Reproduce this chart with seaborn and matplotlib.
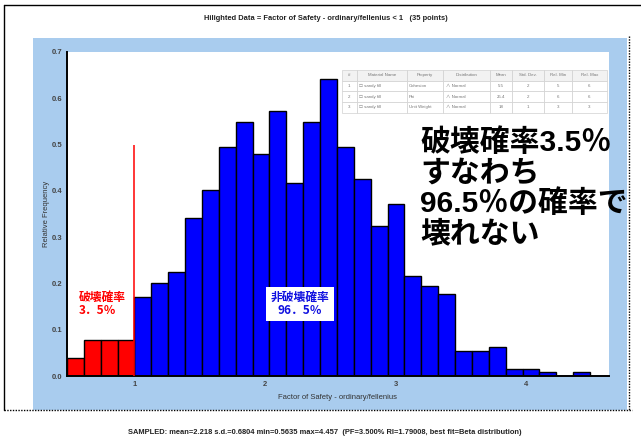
import numpy as np
import pandas as pd
import matplotlib
matplotlib.use("Agg")
import matplotlib.pyplot as plt
import seaborn as sns
from matplotlib.patches import Rectangle
from matplotlib.lines import Line2D

# ---- data -------------------------------------------------------------
# Monte-Carlo samples of the factor of safety, binned (1000 samples)
bin_first_edge = 0.4832
bin_width = 0.1292
bin_counts = [5, 10, 10, 10, 22, 26, 29, 44, 52, 64, 71, 62, 74, 54, 71,
              83, 64, 55, 42, 48, 28, 25, 23, 7, 7, 8, 2, 2, 1, 0, 1]
failure_limit = 1.0

x_ticks = [1, 2, 3, 4]
y_ticks = [0.0, 0.1, 0.2, 0.3, 0.4, 0.5, 0.6, 0.7]

title_text = "Hilighted Data = Factor of Safety - ordinary/fellenius < 1   (35 points)"
summary_text = ("SAMPLED: mean=2.218 s.d.=0.6804 min=0.5635 max=4.457  "
                "(PF=3.500% RI=1.79008, best fit=Beta distribution)")
x_label = "Factor of Safety - ordinary/fellenius"
y_label = "Relative Frequency"

fail_label = "破壊確率\n3．5％"
safe_label = "非破壊確率\n96．5％"
message_lines = ["破壊確率3.5％", "すなわち", "96.5％の確率で", "壊れない"]

table_header = ["#", "Material Name", "Property", "Distribution",
                "Mean", "Std. Dev.", "Rel. Min", "Rel. Max"]
table_rows = [
    ["1", "☐ sandy fill", "Cohesion", "∧ Normal", "5.5", "2", "5", "6"],
    ["2", "☐ sandy fill", "Phi", "∧ Normal", "25.4", "2", "6", "6"],
    ["3", "☐ sandy fill", "Unit Weight", "∧ Normal", "18", "1", "3", "3"],
]

# ---- frame ------------------------------------------------------------
edges = bin_first_edge + bin_width * np.arange(len(bin_counts) + 1)
centers = (edges[:-1] + edges[1:]) / 2
df = pd.DataFrame({
    "fos": centers,
    "count": bin_counts,
    "zone": np.where(centers < failure_limit, "fail", "safe"),
})

sns.set_theme(style="white")
plt.rcParams["font.family"] = ["Liberation Sans", "Noto Sans CJK JP", "DejaVu Sans"]

W, H = 641, 444
fig = plt.figure(figsize=(W / 100, H / 100), dpi=100)
fig.patch.set_facecolor("white")


def fx(px):
    return px / W


def fy(py):
    return 1 - py / H


# light-blue panel behind the plot
fig.patches.append(Rectangle((fx(33), fy(410)), fx(627 - 33), (410 - 38) / H,
                             transform=fig.transFigure, facecolor="#A9CCEE",
                             edgecolor="none", zorder=-5))
# outer frame lines
fig.add_artist(Line2D([fx(4), fx(4)], [fy(5), fy(410)], color="black", lw=1.0,
                      zorder=-4))
fig.add_artist(Line2D([fx(4), fx(641)], [fy(5), fy(5)], color="black", lw=1.0,
                      zorder=-4))
fig.add_artist(Line2D([fx(4), fx(632)], [fy(410), fy(410)], color="black", lw=1.0,
                      linestyle=(0, (1, 1)), zorder=-4))
fig.add_artist(Line2D([fx(629), fx(629)], [fy(36), fy(410)], color="black", lw=1.0,
                      linestyle=(0, (1, 1)), zorder=-4))

ax = fig.add_axes([fx(67), fy(376), fx(609 - 67), (376 - 52) / H])
ax.set_facecolor("white")

sns.histplot(data=df, x="fos", weights="count", hue="zone",
             hue_order=["fail", "safe"],
             palette={"fail": "#FF0000", "safe": "#0000FF"},
             bins=edges.tolist(), stat="density", common_norm=True,
             alpha=1, edgecolor="black", linewidth=1.0,
             legend=False, ax=ax)

ax.vlines(failure_limit, 0, 0.5, color="#FF0000", lw=1.1, zorder=5)

ax.set_xlim(edges[0], 4.634)
ax.set_ylim(0, 0.7)
ax.set_xticks(x_ticks)
ax.set_xticks(np.arange(0.5, 4.6, 0.5), minor=True)
ax.set_yticks(y_ticks)
ax.set_yticks(np.arange(0.05, 0.7, 0.1), minor=True)
ax.set_xticklabels([str(t) for t in x_ticks])
ax.set_yticklabels([f"{t:.1f}" for t in y_ticks])
ax.tick_params(axis="both", which="both", direction="inout", color="black",
               width=0.8, labelsize=5.5, labelcolor="#444444", pad=1.5)
ax.tick_params(axis="both", which="major", length=4)
ax.tick_params(axis="both", which="minor", length=3)
for lab in ax.get_xticklabels() + ax.get_yticklabels():
    lab.set_fontweight("bold")

for side in ["top", "right"]:
    ax.spines[side].set_visible(False)
for side in ["left", "bottom"]:
    ax.spines[side].set_color("black")
    ax.spines[side].set_linewidth(1.4)

ax.set_xlabel("")
ax.set_ylabel("")
fig.text(fx(337), fy(397), x_label, ha="center", va="center",
         fontsize=5.5, color="#333333")
fig.text(fx(46), fy(214), y_label, ha="center", va="center", rotation=90,
         fontsize=5.5, color="#333333")

fig.text(fx(326), fy(18), title_text, ha="center", va="center",
         fontsize=5.4, fontweight="bold", color="#222222")
fig.text(fx(325), fy(432), summary_text, ha="center", va="center",
         fontsize=5.4, fontweight="bold", color="#222222")

# in-plot annotations
fig.text(fx(79), fy(304), fail_label, ha="left", va="center",
         fontsize=8.5, fontweight="bold", color="#FF0000", linespacing=0.95,
         family=["Noto Sans CJK JP", "DejaVu Sans"])
fig.text(fx(300), fy(304), safe_label, ha="center", va="center",
         fontsize=8.5, fontweight="bold", color="#1010E0", linespacing=0.95,
         family=["Noto Sans CJK JP", "DejaVu Sans"],
         bbox=dict(boxstyle="square,pad=0.35", facecolor="white", edgecolor="none"))

for i, line in enumerate(message_lines):
    fig.text(fx(420), fy(143 + 30.5 * i), line, ha="left", va="center",
             fontsize=21.5, fontweight="bold", color="black",
             family=["Liberation Sans", "Noto Sans CJK JP", "DejaVu Sans"],
             zorder=20)

# parameter table
col_px = [15, 50, 36.7, 46.7, 21.7, 31.7, 28.3, 35]
col_w = [c / sum(col_px) for c in col_px]
tbl = ax.table(cellText=table_rows, colLabels=table_header, colWidths=col_w,
               cellLoc="center", bbox=[0.507, 0.8127, 0.489, 0.132])
tbl.auto_set_font_size(False)
tbl.set_fontsize(3.2)
tbl.set_zorder(10)
for (r, c), cell in tbl.get_celld().items():
    cell.set_edgecolor("#D0D0D0")
    cell.set_linewidth(0.5)
    cell.set_facecolor("#F2F2F2" if r == 0 else "white")
    cell.get_text().set_color("#777777")
    if c in (1, 2, 3) and r > 0:
        cell.get_text().set_ha("left")
        cell.PAD = 0.05

fig.savefig("out.png", dpi=100)
